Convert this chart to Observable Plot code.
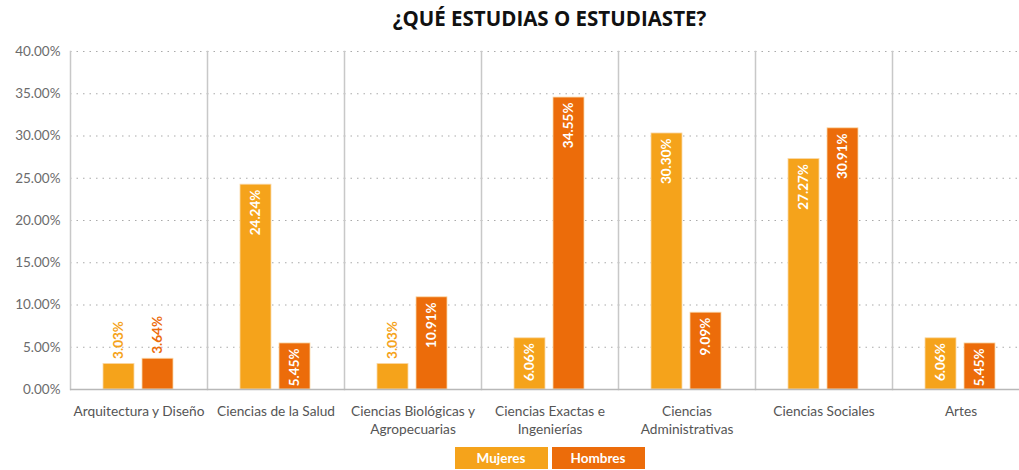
<!DOCTYPE html>
<html>
<head>
<meta charset="utf-8">
<script src="https://cdn.jsdelivr.net/npm/d3@7"></script>
<script src="https://cdn.jsdelivr.net/npm/@observablehq/plot@0.6"></script>
<style>
  html, body { margin: 0; padding: 0; background: #fff; overflow: hidden; width: 1019px; height: 470px; }
  #title { width: 959px; padding-left: 70px; height: 36px; line-height: 36px; text-align: center;
           font-family: "Open Sans", sans-serif; font-weight: 700; font-size: 20.5px; color: #111; }
  #chart svg { max-width: none !important; display: block; }
  #legend { width: 1029px; padding-left: 70px; box-sizing: border-box; display: flex; justify-content: center; gap: 4px; margin-top: -1px; }
  .key { width: 93px; height: 22px; line-height: 22px; text-align: center; color: #fff;
         font-family: Lato, sans-serif; font-weight: 700; font-size: 13.5px; }
</style>
</head>
<body>
<div id="title">¿QUÉ ESTUDIAS O ESTUDIASTE?</div>
<div id="chart"></div>
<div id="legend"></div>
<script>
const categories = [
  "Arquitectura y Diseño",
  "Ciencias de la Salud",
  "Ciencias Biológicas y\nAgropecuarias",
  "Ciencias Exactas e\nIngenierías",
  "Ciencias\nAdministrativas",
  "Ciencias Sociales",
  "Artes"
];
const series = ["Mujeres", "Hombres"];
const mujeres = [3.03, 24.24, 3.03, 6.06, 30.30, 27.27, 6.06];
const hombres = [3.64, 5.45, 10.91, 34.55, 9.09, 30.91, 5.45];
const yTicks = [0, 5, 10, 15, 20, 25, 30, 35, 40];
const colors = ["#F5A31B", "#EC6C0A"];

const data = [];
categories.forEach((c, i) => {
  data.push({cat: c, serie: "Mujeres", value: mujeres[i]});
  data.push({cat: c, serie: "Hombres", value: hombres[i]});
});
const fmt = d => d.toFixed(2) + "%";
const inside = data.filter(d => d.value >= 5);
const outside = data.filter(d => d.value < 5);

const chart = Plot.plot({
  width: 1029,
  height: 412,
  marginTop: 15,
  marginBottom: 59,
  marginLeft: 70,
  marginRight: 0,
  style: {fontFamily: "Lato, sans-serif", background: "transparent"},
  fx: {domain: categories, padding: 0, label: null},
  x: {domain: series, paddingInner: 0.2, paddingOuter: 0.85, axis: null},
  y: {domain: [0, 40], label: null},
  color: {domain: series, range: colors},
  marks: [
    Plot.gridY(yTicks.slice(1), {stroke: "#aaa", strokeOpacity: 1, strokeWidth: 1.2, strokeDasharray: "1.5,5"}),
    Plot.frame({anchor: "left", stroke: "#c8c8c8", strokeWidth: 1.5}),
    Plot.axisY(yTicks, {tickSize: 0, tickPadding: 10, tickFormat: fmt, fontSize: 13.5, fill: "#6b6b6b", label: null, facetAnchor: "left"}),
    Plot.axisFx({anchor: "bottom", tickSize: 0, tickPadding: 14, fontSize: 13.7, fill: "#555", label: null, lineHeight: 1.3}),
    Plot.barY(data, {fx: "cat", x: "serie", y: "value", fill: "serie", stroke: "#fbd9a8", strokeWidth: 0.8}),
    Plot.ruleY([0], {stroke: "#b8b8b8", strokeWidth: 1.5}),
    Plot.text(inside, {fx: "cat", x: "serie", y: "value", text: d => fmt(d.value), rotate: -90, textAnchor: "end", dy: 5, fill: "#fff", fontWeight: "bold", fontSize: 13.5}),
    Plot.text(outside, {fx: "cat", x: "serie", y: "value", text: d => fmt(d.value), rotate: -90, textAnchor: "start", dy: -5, fill: "serie", fontWeight: "bold", fontSize: 13.5})
  ]
});
chart.style.maxWidth = "none";
document.getElementById("chart").appendChild(chart);

const legend = document.getElementById("legend");
series.forEach((s, i) => {
  const k = document.createElement("div");
  k.className = "key";
  k.style.background = colors[i];
  k.textContent = s;
  legend.appendChild(k);
});
</script>
</body>
</html>
